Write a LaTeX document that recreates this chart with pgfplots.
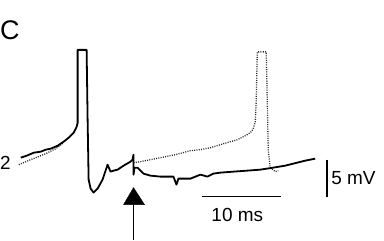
\documentclass[border=0pt]{standalone}
\usepackage{pgfplots}
\pgfplotsset{compat=1.18}
\usepackage{fontspec}
\setmainfont{Liberation Sans}
\begin{document}
\begin{tikzpicture}
\begin{axis}[
  scale only axis, width=384pt, height=240pt,
  xmin=0, xmax=384, ymin=0, ymax=240, y dir=reverse,
  axis lines=none, clip=false,
]
\path (rel axis cs:0,0) rectangle (rel axis cs:1,1);
% dotted trace (second sweep)
\addplot[black!85, line width=1.3pt, dash pattern=on 1pt off 1.3pt] coordinates {
(18,165)(30,160)(45,154)(55,149)(63,143)
};
\addplot[black!85, line width=1.3pt, dash pattern=on 1pt off 1.3pt] coordinates {
(133,163)(140,162)(150,160)(160,158)(175,155)(190,151)(200,150)(210,148)(220,145)(230,142)(237,140)(245,136)(250,133)(253,129)(255,122)(256,100)(257,52)(266,52)(267,100)(268,150)(270,168)(275,172)(278,171)
};
% solid trace
\addplot[black, line width=1.8pt, line join=round] coordinates {
(20,158)(26,156)(33,153)(40,152)(45,150)(50,149)(57,146)(63,142)(68,138)(73,133)(76,127)(77,123)(77,50)(86,50)(87,120)(88,180)(90,189)(93,193)(97,189)(102,180)(107,165)(110,172)(113,171)(117,170)(123,166)(130,162)(132,160)(133,155)(133,175)(134,168)(137,168)(143,174)(150,176)(160,177)(170,177)(173,177)(176,185)(178,179)(185,179)(190,179)(200,175)(207,177)(213,174)(220,173)(233,172)(247,171)(260,170)(273,168)(285,166)(297,163)(305,161)(315,159)
};
% arrow
\addplot[black, fill=black, draw=black] coordinates {(123,205)(133,188)(144,205)(123,205)};
\addplot[black, line width=1.2pt] coordinates {(133,205)(133,240)};
% scale bars
\addplot[black, line width=1.5pt] coordinates {(327,160)(327,197)};
\addplot[black, line width=1.5pt] coordinates {(202,197)(281,197)};
% labels
\node[anchor=base west, inner sep=0pt, font=\fontsize{27}{30}\selectfont] at (axis cs:-1,40) {C};
\node[anchor=base west, inner sep=0pt, font=\fontsize{19}{21}\selectfont] at (axis cs:-1,170) {2};
\node[anchor=base west, inner sep=0pt, font=\fontsize{19}{21}\selectfont] at (axis cs:331,185) {5 mV};
\node[anchor=base, inner sep=0pt, font=\fontsize{19}{21}\selectfont] at (axis cs:237,222) {10 ms};
\end{axis}
\end{tikzpicture}
\end{document}
